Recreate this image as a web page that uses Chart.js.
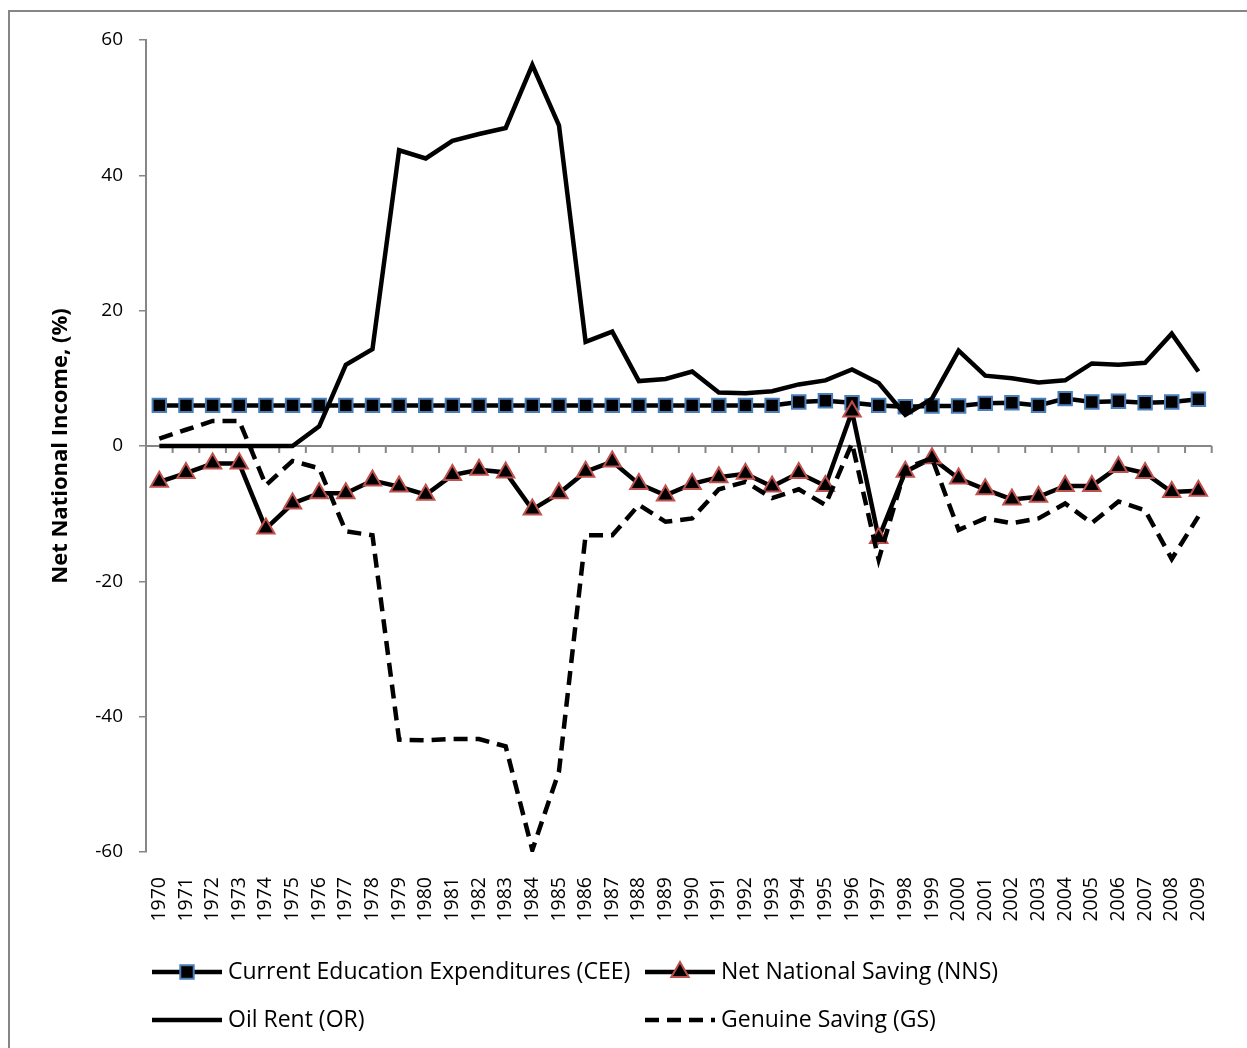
<!DOCTYPE html>
<html>
<head>
<meta charset="utf-8">
<script src="https://cdn.jsdelivr.net/npm/chart.js@4.4.1/dist/chart.umd.min.js"></script>
<style>
html, body { margin: 0; padding: 0; background: #fff; width: 1247px; height: 1048px; overflow: hidden; }
#frame { position: absolute; left: 8px; top: 10px; width: 1400px; height: 1200px; border: 2px solid #868686; box-sizing: border-box; }
#wrap { position: absolute; left: 0; top: 0; width: 1247px; height: 1048px; }
</style>
</head>
<body>
<div id="frame"></div>
<div id="wrap"><canvas id="chart" width="1247" height="1048"></canvas></div>
<script>
const years = ['1970','1971','1972','1973','1974','1975','1976','1977','1978','1979',
               '1980','1981','1982','1983','1984','1985','1986','1987','1988','1989',
               '1990','1991','1992','1993','1994','1995','1996','1997','1998','1999',
               '2000','2001','2002','2003','2004','2005','2006','2007','2008','2009'];

// Current Education Expenditures (CEE)
const cee = [6.0, 6.0, 6.0, 6.0, 6.0, 6.0, 6.0, 6.0, 6.0, 6.0,
             6.0, 6.0, 6.0, 6.0, 6.0, 6.0, 6.0, 6.0, 6.0, 6.0,
             6.0, 6.0, 6.0, 6.0, 6.5, 6.7, 6.4, 6.0, 5.8, 5.9,
             5.9, 6.3, 6.4, 6.0, 7.0, 6.5, 6.6, 6.4, 6.5, 6.9];
// Net National Saving (NNS)
const nns = [-5.3, -4.0, -2.6, -2.6, -12.2, -8.5, -7.0, -7.0, -5.1, -6.0,
             -7.2, -4.3, -3.5, -3.9, -9.4, -7.0, -3.8, -2.3, -5.6, -7.3,
             -5.6, -4.6, -4.1, -6.0, -4.0, -5.9, 5.1, -13.6, -3.8, -1.8,
             -4.8, -6.4, -7.9, -7.5, -5.9, -5.9, -3.1, -4.0, -6.8, -6.6];
// Oil Rent (OR)
const oilRent = [0, 0, 0, 0, 0, 0, 2.9, 12.0, 14.3, 43.7,
                 42.5, 45.1, 46.1, 47.0, 56.3, 47.4, 15.4, 16.9, 9.6, 9.9,
                 11.0, 7.9, 7.8, 8.1, 9.1, 9.7, 11.3, 9.3, 4.6, 7.0,
                 14.1, 10.4, 10.0, 9.4, 9.7, 12.2, 12.0, 12.3, 16.6, 11.0];
// Genuine Saving (GS)
const gs = [1.1, 2.4, 3.7, 3.7, -5.8, -2.2, -3.3, -12.6, -13.2, -43.4,
            -43.5, -43.3, -43.3, -44.4, -59.7, -48.1, -13.2, -13.2, -8.7, -11.2,
            -10.7, -6.4, -5.3, -7.7, -6.4, -8.7, 0.4, -16.8, -3.3, -1.8,
            -12.4, -10.7, -11.4, -10.7, -8.5, -11.4, -8.2, -9.5, -16.7, -10.4];

const seriesNames = ['Current Education Expenditures (CEE)', 'Net National Saving (NNS)', 'Oil Rent (OR)', 'Genuine Saving (GS)'];
const yTicks = [-60, -40, -20, 0, 20, 40, 60];
const yTitle = 'Net National Income, (%)';

const FONT = "'Open Sans', 'DejaVu Sans', sans-serif";
const AXIS_GREY = '#868686';

// x axis line drawn at zero, with tick marks between categories
const zeroAxis = {
    id: 'zeroAxis',
    beforeDatasetsDraw(chart) {
        const { ctx, chartArea, scales: { x, y } } = chart;
        const y0 = y.getPixelForValue(0);
        const half = (x.getPixelForValue(1) - x.getPixelForValue(0)) / 2;
        ctx.save();
        ctx.strokeStyle = AXIS_GREY;
        ctx.lineWidth = 2;
        ctx.beginPath();
        ctx.moveTo(chartArea.left, y0);
        ctx.lineTo(chartArea.right, y0);
        for (let i = 0; i <= years.length; i++) {
            const px = i < years.length ? x.getPixelForValue(i) - half : x.getPixelForValue(years.length - 1) + half;
            ctx.moveTo(px, y0);
            ctx.lineTo(px, y0 + 7);
        }
        ctx.stroke();
        ctx.restore();
    }
};

function drawMarker(ctx, ds, cx, cy) {
    if (!ds.pointRadius) return;
    const r = ds.pointRadius;
    ctx.save();
    ctx.fillStyle = ds.pointBackgroundColor;
    ctx.strokeStyle = ds.pointBorderColor;
    ctx.lineWidth = ds.pointBorderWidth;
    ctx.setLineDash([]);
    ctx.beginPath();
    if (ds.pointStyle === 'rect') {
        const s = Math.SQRT1_2 * r;
        ctx.rect(cx - s, cy - s, 2 * s, 2 * s);
    } else {
        ctx.moveTo(cx, cy - r);
        ctx.lineTo(cx + Math.sin(Math.PI * 2 / 3) * r, cy + r / 2);
        ctx.lineTo(cx - Math.sin(Math.PI * 2 / 3) * r, cy + r / 2);
        ctx.closePath();
    }
    ctx.fill();
    ctx.stroke();
    ctx.restore();
}

// two-column legend in the style of the original
const gridLegend = {
    id: 'gridLegend',
    afterDraw(chart) {
        const { ctx } = chart;
        const slots = [[152, 972], [645, 972], [152, 1020], [645, 1020]];
        chart.data.datasets.forEach((ds, i) => {
            const [lx, ly] = slots[i];
            ctx.save();
            ctx.strokeStyle = ds.borderColor;
            ctx.lineWidth = ds.borderWidth;
            ctx.setLineDash(ds.borderDash || []);
            ctx.beginPath();
            ctx.moveTo(lx, ly);
            ctx.lineTo(lx + 70, ly);
            ctx.stroke();
            ctx.restore();
            drawMarker(ctx, ds, lx + 35, ly);
            ctx.save();
            ctx.fillStyle = '#000';
            ctx.font = '23px ' + FONT;
            ctx.textBaseline = 'middle';
            ctx.fillText(ds.label, lx + 76, ly);
            ctx.restore();
        });
    }
};

const lineBase = { borderColor: '#000', borderWidth: 4.5, tension: 0, borderJoinStyle: 'miter', fill: false };

new Chart(document.getElementById('chart'), {
    type: 'line',
    data: {
        labels: years,
        datasets: [
            Object.assign({}, lineBase, { label: seriesNames[0], data: cee, order: 4,
                pointStyle: 'rect', pointRadius: 9.5, pointBackgroundColor: '#000',
                pointBorderColor: '#4a7ebb', pointBorderWidth: 2 }),
            Object.assign({}, lineBase, { label: seriesNames[1], data: nns, order: 3,
                pointStyle: 'triangle', pointRadius: 10, pointBackgroundColor: '#000',
                pointBorderColor: '#c0504d', pointBorderWidth: 2 }),
            Object.assign({}, lineBase, { label: seriesNames[2], data: oilRent, order: 2, pointRadius: 0 }),
            Object.assign({}, lineBase, { label: seriesNames[3], data: gs, order: 1, pointRadius: 0,
                borderDash: [14, 8], borderCapStyle: 'butt' })
        ]
    },
    options: {
        responsive: false,
        devicePixelRatio: 1,
        animation: false,
        layout: { padding: { left: 0, top: 40, right: 17, bottom: 0 } },
        plugins: { legend: { display: false }, tooltip: { enabled: false } },
        scales: {
            x: {
                type: 'category',
                offset: true,
                grid: { display: false, drawTicks: false },
                border: { display: false },
                ticks: { autoSkip: false, maxRotation: 90, minRotation: 90, padding: 25,
                         color: '#000', font: { family: FONT, size: 19.5 } },
                afterFit(scale) { scale.height = 196; }
            },
            y: {
                min: -60, max: 60,
                afterBuildTicks(scale) { scale.ticks = yTicks.map(v => ({ value: v })); },
                grid: { drawOnChartArea: false, drawTicks: true, tickLength: 7, color: AXIS_GREY, lineWidth: 1.5 },
                border: { color: AXIS_GREY, width: 2 },
                ticks: { padding: 16, color: '#000', font: { family: FONT, size: 19 } },
                title: { display: true, text: yTitle, color: '#000',
                         font: { family: FONT, size: 22, weight: 'bold' }, padding: { top: 48, bottom: 0 } },
                afterFit(scale) { scale.width = 146; }
            }
        }
    },
    plugins: [zeroAxis, gridLegend]
});
</script>
</body>
</html>
